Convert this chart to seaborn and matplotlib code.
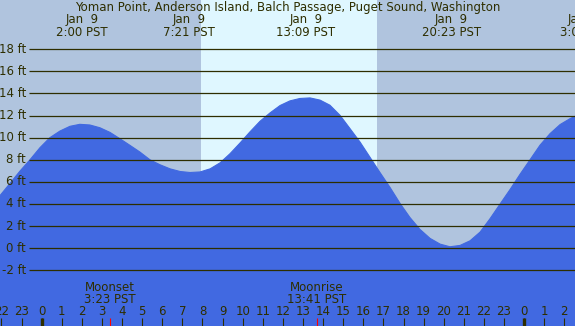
import matplotlib
matplotlib.use("Agg")
import matplotlib.pyplot as plt
import seaborn as sns
import pandas as pd

# tide height (hours from midnight Jan 9, feet)
hours = [-2.07, -1.58, -1.08, -0.58, -0.08, 0.41, 0.91, 1.41, 1.9, 2.4, 2.9, 3.4, 3.9,
         4.4, 4.89, 5.39, 5.89, 6.39, 6.89, 7.38, 7.88, 8.38, 8.88, 9.37, 9.87, 10.36,
         10.86, 11.36, 11.86, 12.35, 12.85, 13.35, 13.85, 14.34, 14.84, 15.34, 15.84,
         16.33, 16.83, 17.33, 17.83, 18.32, 18.82, 19.32, 19.82, 20.31, 20.81, 21.31,
         21.81, 22.3, 22.8, 23.3, 23.8, 24.3, 24.79, 25.29, 25.79, 26.29, 26.53]
height = [4.76, 5.85, 6.97, 8.0, 9.1, 10.0, 10.6, 11.03, 11.21, 11.15, 10.9, 10.48, 9.9,
          9.3, 8.7, 8.0, 7.55, 7.18, 6.94, 6.85, 6.9, 7.18, 7.73, 8.55, 9.52, 10.52,
          11.48, 12.24, 12.91, 13.33, 13.55, 13.6, 13.4, 12.94, 12.03, 10.82, 9.6,
          8.24, 6.85, 5.5, 4.05, 2.78, 1.7, 0.89, 0.37, 0.13, 0.25, 0.67,
          1.46, 2.66, 3.99, 5.31, 6.7, 8.02, 9.32, 10.37, 11.19, 11.73, 11.94]

title = "Yoman Point, Anderson Island, Balch Passage, Puget Sound, Washington"
extreme_hours = [2.0, 7.35, 13.15, 20.383, 27.083]
extreme_days = ["Jan  9", "Jan  9", "Jan  9", "Jan  9", "Jan 10"]
extreme_times = ["2:00 PST", "7:21 PST", "13:09 PST", "20:23 PST", "3:05 PST"]

moon_hours = [3.383, 13.683]
moon_names = ["Moonset", "Moonrise"]
moon_times = ["3:23 PST", "13:41 PST"]

sunrise, sunset = 7.93, 16.68
levels = list(range(-2, 19, 2))
tick_hours = list(range(-2, 27))
tick_labels = [str(h % 24) for h in tick_hours]

night = "#B0C4DE"
day = "#DFF7FF"
water = "#4169E1"
ink = "#2E2E00"

sns.set_style("white")
plt.rcParams['font.family'] = ['DejaVu Sans']

fig = plt.figure(figsize=(5.75, 3.26), dpi=100)
ax = fig.add_axes([0, 0, 1, 1])
ax.set_xlim(-2.07, 26.53)
ax.set_ylim(-7.04, 22.46)
ax.set_facecolor(night)
for s in ax.spines.values():
    s.set_visible(False)
ax.set_xticks([])
ax.set_yticks([])

ax.axvspan(sunrise, sunset, color=day, lw=0, zorder=0)

df = pd.DataFrame({"hour": hours, "ft": height})
ax.fill_between(df["hour"], df["ft"], -7.04, color=water, lw=0, zorder=1)
sns.lineplot(data=df, x="hour", y="ft", ax=ax, color=water, lw=0.8, zorder=2)
ax.set_xlabel("")
ax.set_ylabel("")

# horizontal level lines and labels
ax.hlines(levels, -0.63, 26.53, color=ink, lw=0.9, zorder=3)
for lv in levels:
    ax.text(-0.77, lv, f"{lv} ft", ha="right", va="center", fontsize=8.5, color=ink, zorder=4)

# title and tide extremes
fs = 8.5
ax.text(0.5, 1 - 7 / 326, title, transform=ax.transAxes, ha="center", va="center",
        fontsize=fs, color=ink)
for h, d, t in zip(extreme_hours, extreme_days, extreme_times):
    ax.text(h, 1 - 20 / 326, d, transform=ax.get_xaxis_transform(), ha="center",
            va="center", fontsize=fs, color=ink)
    ax.text(h, 1 - 32 / 326, t, transform=ax.get_xaxis_transform(), ha="center",
            va="center", fontsize=fs, color=ink)

# moon events
for h, n, t in zip(moon_hours, moon_names, moon_times):
    ax.text(h, 38.7 / 326, n, transform=ax.get_xaxis_transform(), ha="center",
            va="center", fontsize=fs, color=ink)
    ax.text(h, 26.7 / 326, t, transform=ax.get_xaxis_transform(), ha="center",
            va="center", fontsize=fs, color=ink)

# hour ticks along the bottom
xt = ax.get_xaxis_transform()
for h, lab in zip(tick_hours, tick_labels):
    ax.text(h, 14.3 / 326, lab, transform=xt, ha="center", va="center",
            fontsize=fs, color=ink)
ax.vlines(tick_hours, 0, 8 / 326, transform=xt, color=ink, lw=0.8, zorder=5)
ax.vlines([0, 24], 0, 8 / 326, transform=xt, color=ink, lw=2.4, zorder=5)
ax.vlines(moon_hours, 0, 8 / 326, transform=xt, color="red", lw=0.8, zorder=6)

fig.savefig("out.png", dpi=100)
